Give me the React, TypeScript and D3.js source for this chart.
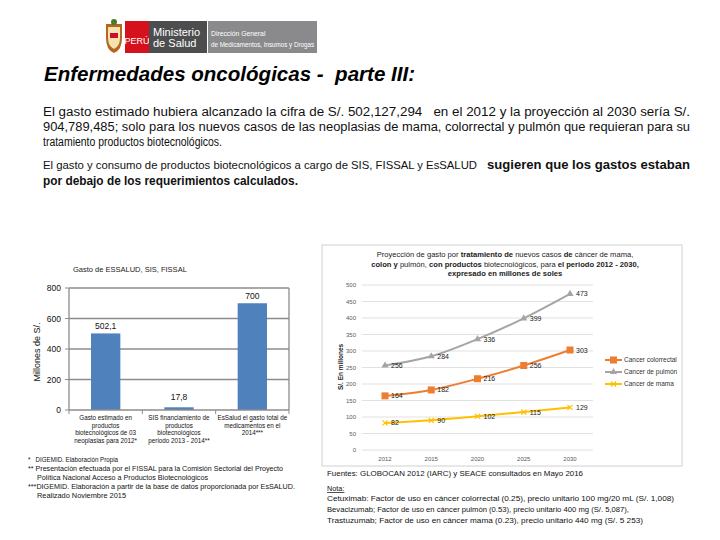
import React from "react";
import * as d3 from "d3";

const barCategories: string[][] = [
  ["Gasto estimado en", "productos", "biotecnológicos de 03", "neoplasias para 2012*"],
  ["SIS financiamiento de", "productos", "biotecnológicos", "periodo 2013 - 2014**"],
  ["EsSalud el gasto total de", "medicamentos en el", "2014***"],
];
const barValues = [502.1, 17.8, 700];
const barValueLabels = ["502,1", "17,8", "700"];
const barTicks = [0, 200, 400, 600, 800];

const years = ["2012", "2015", "2020", "2025", "2030"];
const colorrectal = [164, 182, 216, 256, 303];
const pulmon = [256, 284, 336, 399, 473];
const mama = [82, 90, 102, 115, 129];
const lineTicks = [0, 50, 100, 150, 200, 250, 300, 350, 400, 450, 500];
const seriesNames = ["Cancer colorrectal", "Cancer de pulmón", "Cancer de mama"];

const narrow = "'Liberation Sans Narrow', 'Liberation Sans', Arial, sans-serif";
const pre = { whiteSpace: "pre" as const };

export default function App() {
  // Bar chart
  const bx = d3.scaleBand<number>().domain([0, 1, 2]).range([69, 289]).paddingInner(0.6).paddingOuter(0.3);
  const bandOuter = d3.scaleBand<number>().domain([0, 1, 2]).range([69, 289]);
  const by = d3.scaleLinear().domain([0, 800]).range([410, 288]);

  // Line chart
  const lx = d3.scalePoint<string>().domain(years).range([385, 570]);
  const ly = d3.scaleLinear().domain([0, 500]).range([450, 285]);
  const line = d3
    .line<number>()
    .x((_, i) => lx(years[i]) as number)
    .y((d) => ly(d))
    .curve(d3.curveMonotoneX);
  const series = [
    { name: seriesNames[0], values: colorrectal, color: "#ED7D31", marker: "square" },
    { name: seriesNames[1], values: pulmon, color: "#A5A5A5", marker: "triangle" },
    { name: seriesNames[2], values: mama, color: "#FFC000", marker: "x" },
  ];

  const marker = (m: string, x: number, y: number, color: string, key: string) => {
    if (m === "square") return <rect key={key} x={x - 3.5} y={y - 3.5} width={7} height={7} fill={color} />;
    if (m === "triangle")
      return <path key={key} d={d3.symbol(d3.symbolTriangle, 22)() as string} transform={`translate(${x},${y})`} fill={color} />;
    return <path key={key} d={d3.symbol(d3.symbolX, 18)() as string} transform={`translate(${x},${y})`} stroke={color} strokeWidth={1.2} fill="none" />;
  };

  return (
    <svg width={720} height={540} style={{ position: "absolute", left: 0, top: 0, background: "#fff" }}>
      {/* Logo */}
      <g>
        <path d="M106,24 h16 v14 q0,12 -8,15 q-8,-3 -8,-15 z" fill="#b5651d" />
        <path d="M108,27 h12 v11 q0,8 -6,11 q-6,-3 -6,-11 z" fill="#f4e3b0" />
        <circle cx={114} cy={22} r={3} fill="#4a7a2a" />
        <path d="M110,33 h8 v5 h-8 z" fill="#c8102e" />
        <rect x={125} y={21} width={24} height={32} fill="#d6111e" />
        <text x={137} y={44} fill="#fff" fontSize={9} fontFamily={narrow} textAnchor="middle">PERÚ</text>
        <rect x={149} y={21} width={58} height={32} fill="#4d4d4f" />
        <text x={153} y={36} fill="#fff" fontSize={11} fontFamily={narrow}>Ministerio</text>
        <text x={153} y={47} fill="#fff" fontSize={11} fontFamily={narrow}>de Salud</text>
        <rect x={208} y={21} width={109} height={32} fill="#8a8a8c" />
        <text x={211} y={36} fill="#fff" fontSize={6.8} fontFamily={narrow}>Dirección General</text>
        <text x={211} y={47} fill="#fff" fontSize={6.8} fontFamily={narrow} textLength={103} lengthAdjust="spacingAndGlyphs">de Medicamentos, Insumos y Drogas</text>
      </g>

      {/* Title */}
      <text x={44} y={81} fontSize={20} fontWeight="bold" fontStyle="italic" fontFamily="'Liberation Sans', Arial, sans-serif" textLength={371} lengthAdjust="spacingAndGlyphs" style={pre}>
        Enfermedades oncológicas -  parte III:
      </text>

      {/* Paragraph */}
      <g fontFamily={narrow} fontSize={12.5} fill="#111">
        <text x={43} y={116} textLength={647} lengthAdjust="spacingAndGlyphs" style={pre}>El gasto estimado hubiera alcanzado la cifra de S/. 502,127,294   en el 2012 y la proyección al 2030 sería S/.</text>
        <text x={43} y={131} textLength={647} lengthAdjust="spacingAndGlyphs">904,789,485; solo para los nuevos casos de las neoplasias de mama, colorrectal y pulmón que requieran para su</text>
        <text x={43} y={146} textLength={179} lengthAdjust="spacingAndGlyphs">tratamiento productos biotecnológicos.</text>
        <text x={43} y={169} fontSize={11.5} textLength={434} lengthAdjust="spacingAndGlyphs">El gasto y consumo de productos biotecnológicos a cargo de SIS, FISSAL y EsSALUD</text>
        <text x={487} y={169} fontWeight="bold" fontSize={12.3} textLength={203} lengthAdjust="spacingAndGlyphs">sugieren que los gastos estaban</text>
        <text x={43} y={185} fontWeight="bold" fontSize={13.5} textLength={255} lengthAdjust="spacingAndGlyphs">por debajo de los requerimientos calculados.</text>
      </g>

      {/* Bar chart */}
      <g fontFamily={narrow}>
        <text x={73} y={272} fontSize={7.5} fill="#222">Gasto de ESSALUD, SIS, FISSAL</text>
        {barTicks.map((t) => (
          <g key={t}>
            {t > 0 && <line x1={69} x2={289} y1={by(t)} y2={by(t)} stroke="#8c8c8c" strokeWidth={1.3} />}
            <line x1={65} x2={69} y1={by(t)} y2={by(t)} stroke="#8c8c8c" />
            <text x={61} y={by(t) + 3} fontSize={8.5} textAnchor="end" fill="#111">{t}</text>
          </g>
        ))}
        <line x1={289} x2={289} y1={288} y2={410} stroke="#8c8c8c" strokeWidth={1.3} />
        {barValues.map((v, i) => (
          <g key={i}>
            <rect x={bx(i)} y={by(v)} width={bx.bandwidth()} height={410 - by(v)} fill="#4F81BD" />
            <text x={(bx(i) as number) + bx.bandwidth() / 2} y={by(v) - (v < 100 ? 7 : 4)} fontSize={8.5} textAnchor="middle" fill="#111">
              {barValueLabels[i]}
            </text>
          </g>
        ))}
        <line x1={69} x2={69} y1={288} y2={410} stroke="#8c8c8c" strokeWidth={1.3} />
        <line x1={69} x2={289} y1={410} y2={410} stroke="#8c8c8c" strokeWidth={1.3} />
        {[0, 1, 2, 3].map((i) => {
          const x = 69 + i * bandOuter.bandwidth();
          return <line key={i} x1={x} x2={x} y1={410} y2={414} stroke="#8c8c8c" />;
        })}
        {barCategories.map((lines, i) => (
          <text key={i} fontSize={6.3} textAnchor="middle" fill="#111">
            {lines.map((l, j) => (
              <tspan key={j} x={(bandOuter(i) as number) + bandOuter.bandwidth() / 2} y={420 + j * 7.7}>{l}</tspan>
            ))}
          </text>
        ))}
        <text transform="translate(40,352) rotate(-90)" fontSize={9} textAnchor="middle" fill="#111">Millones de S/.</text>
      </g>

      {/* Footnotes */}
      <g fontFamily={narrow} fontSize={6.6} fill="#111">
        <text x={28} y={462} textLength={90} lengthAdjust="spacingAndGlyphs" style={pre}>*   DIGEMID. Elaboración Propia</text>
        <text x={28} y={471} textLength={255} lengthAdjust="spacingAndGlyphs">** Presentación efectuada por el FISSAL para la Comisión Sectorial del Proyecto</text>
        <text x={37} y={480} textLength={171} lengthAdjust="spacingAndGlyphs">Política Nacional Acceso a Productos Biotecnológicos</text>
        <text x={28} y={489} textLength={267} lengthAdjust="spacingAndGlyphs">***DIGEMID. Elaboración a partir de la base de datos proporcionada por EsSALUD.</text>
        <text x={37} y={498} textLength={89} lengthAdjust="spacingAndGlyphs">Realizado Noviembre 2015</text>
      </g>

      {/* Line chart */}
      <g fontFamily={narrow}>
        <rect x={322} y={245} width={360} height={221} fill="#fff" stroke="#d0d0d0" />
        <text textAnchor="middle" fontSize={7.6} fill="#222">
          <tspan x={505} y={257}>Proyección de gasto por <tspan fontWeight="bold">tratamiento de</tspan> nuevos casos <tspan fontWeight="bold">de</tspan> cáncer de mama,</tspan>
          <tspan x={505} y={266.5}><tspan fontWeight="bold">colon y</tspan> pulmón, <tspan fontWeight="bold">con productos</tspan> biotecnológicos, para <tspan fontWeight="bold">el periodo 2012 - 2030,</tspan></tspan>
          <tspan x={505} y={276} fontWeight="bold">expresado en millones de soles</tspan>
        </text>
        {lineTicks.map((t) => (
          <g key={t}>
            <line x1={362} x2={593} y1={ly(t)} y2={ly(t)} stroke="#d9d9d9" strokeWidth={0.8} />
            <text x={356} y={ly(t) + 2.2} fontSize={6} textAnchor="end" fill="#595959">{t}</text>
          </g>
        ))}
        {years.map((y) => (
          <text key={y} x={lx(y)} y={461} fontSize={6} textAnchor="middle" fill="#595959">{y}</text>
        ))}
        <text transform="translate(343,367) rotate(-90)" fontSize={6.5} fontWeight="bold" textAnchor="middle" fill="#222">S/. En millones</text>
        {series.map((s) => (
          <g key={s.name}>
            <path d={line(s.values) as string} fill="none" stroke={s.color} strokeWidth={2} />
            {s.values.map((v, i) => marker(s.marker, lx(years[i]) as number, ly(v), s.color, s.name + i))}
            {s.values.map((v, i) => (
              <text key={"l" + i} x={(lx(years[i]) as number) + 6} y={ly(v) + 2.5} fontSize={7} fill="#222">{v}</text>
            ))}
          </g>
        ))}
        {series.map((s, i) => {
          const y = 360 + i * 12;
          return (
            <g key={"lg" + i}>
              <line x1={605} x2={622} y1={y} y2={y} stroke={s.color} strokeWidth={2} />
              {marker(s.marker, 613.5, y, s.color, "lgm" + i)}
              <text x={624} y={y + 2.3} fontSize={6.5} fill="#333">{s.name}</text>
            </g>
          );
        })}
      </g>

      {/* Right notes */}
      <g fontFamily={narrow} fontSize={7.3} fill="#111">
        <text x={327} y={476} textLength={256} lengthAdjust="spacingAndGlyphs">Fuentes: GLOBOCAN 2012 (IARC) y SEACE consultados en Mayo 2016</text>
        <text x={327} y={491} textDecoration="underline">Nota:</text>
        <text x={327} y={501} textLength={347} lengthAdjust="spacingAndGlyphs">Cetuximab: Factor de uso en cáncer colorrectal (0.25), precio unitario 100 mg/20 mL (S/. 1,008)</text>
        <text x={327} y={512} textLength={302} lengthAdjust="spacingAndGlyphs">Bevacizumab; Factor de uso en cáncer pulmón (0.53), precio unitario 400 mg (S/. 5,087),</text>
        <text x={327} y={523} textLength={316} lengthAdjust="spacingAndGlyphs">Trastuzumab; Factor de uso en cáncer mama (0.23), precio unitario 440 mg (S/. 5 253)</text>
      </g>
    </svg>
  );
}
